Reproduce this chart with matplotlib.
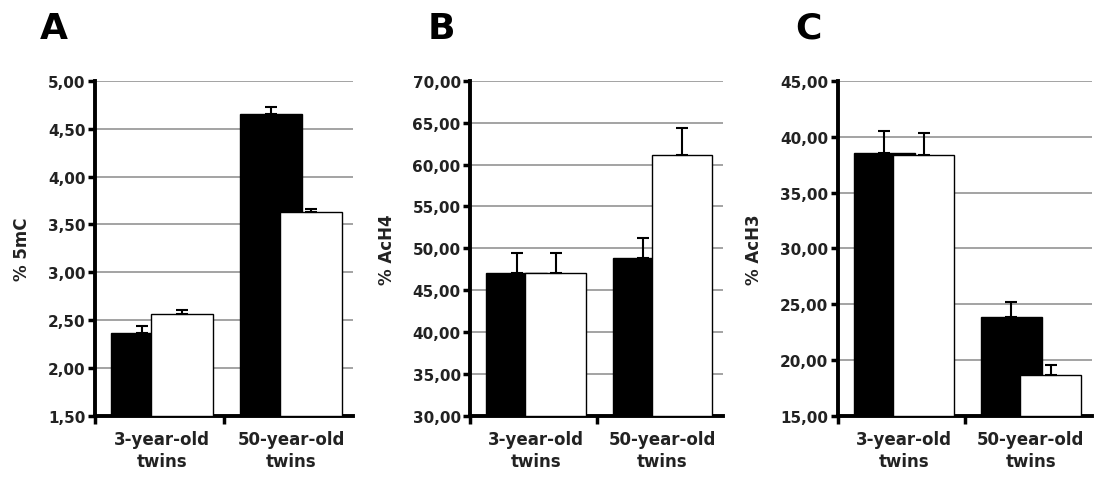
import numpy as np
import matplotlib
matplotlib.use("Agg")
import matplotlib.pyplot as plt
from matplotlib.ticker import FuncFormatter, MultipleLocator

# group labels and panel data (black = twin 1, white = twin 2)
groups = ["3-year-old\ntwins", "50-year-old\ntwins"]
panel_letters = ["A", "B", "C"]
ylabels = ["% 5mC", "% AcH4", "% AcH3"]

mc_black = [2.37, 4.65]
mc_black_err = [0.07, 0.08]
mc_white = [2.56, 3.63]
mc_white_err = [0.05, 0.03]

ach4_black = [47.1, 48.8]
ach4_black_err = [2.3, 2.5]
ach4_white = [47.1, 61.2]
ach4_white_err = [2.3, 3.2]

ach3_black = [38.5, 23.9]
ach3_black_err = [2.0, 1.3]
ach3_white = [38.4, 18.7]
ach3_white_err = [1.9, 0.9]

ylims = [(1.5, 5.0), (30, 70), (15, 45)]
ysteps = [0.5, 5, 5]

plt.rcParams['font.family'] = ['DejaVu Sans']

fig = plt.figure(figsize=(10.94, 4.81), dpi=100)
lefts = [0.087, 0.430, 0.766]
widths = [0.236, 0.231, 0.232]
letter_x = [0.049, 0.403, 0.739]

panels = [
    (mc_black, mc_black_err, mc_white, mc_white_err),
    (ach4_black, ach4_black_err, ach4_white, ach4_white_err),
    (ach3_black, ach3_black_err, ach3_white, ach3_white_err),
]

x = np.arange(len(groups)) + 0.52
w = 0.48
off = 0.155

for i, (bk, bk_err, wh, wh_err) in enumerate(panels):
    ax = fig.add_axes([lefts[i], 0.133, widths[i], 0.697])
    lo, hi = ylims[i]
    ax.bar(x - off, np.array(bk) - lo, w, bottom=lo, color="black",
           edgecolor="black", linewidth=1, zorder=2)
    ax.bar(x + off, np.array(wh) - lo, w, bottom=lo, color="white",
           edgecolor="black", linewidth=1, zorder=3)
    ax.errorbar(x - off, bk, yerr=[np.zeros(2), bk_err], fmt="none",
                ecolor="black", elinewidth=1.5, capsize=4, capthick=1.5, zorder=4)
    ax.errorbar(x + off, wh, yerr=[np.zeros(2), wh_err], fmt="none",
                ecolor="black", elinewidth=1.5, capsize=4, capthick=1.5, zorder=4)

    ax.set_xlim(0, 2)
    ax.set_ylim(lo, hi)
    ax.yaxis.set_major_locator(MultipleLocator(ysteps[i]))
    ax.yaxis.set_major_formatter(FuncFormatter(lambda v, p: f"{v:.2f}".replace(".", ",")))
    ax.grid(axis="y", color="#8a8a8a", linewidth=1.1, zorder=1)
    ax.set_axisbelow(True)

    ax.set_xticks(x)
    ax.set_xticklabels(groups, fontsize=12, fontweight="bold", color="#222222",
                       linespacing=1.3)
    ax.set_xticks([0, 1], minor=True)
    ax.tick_params(axis="x", which="major", length=0, pad=10)
    ax.tick_params(axis="x", which="minor", length=6, width=2.5, direction="out")
    ax.tick_params(axis="y", length=5, width=2.5, direction="out", pad=2,
                   labelsize=11)
    for lab in ax.get_yticklabels():
        lab.set_fontweight("bold")
        lab.set_color("#222222")

    for s in ["top", "right"]:
        ax.spines[s].set_visible(False)
    for s in ["left", "bottom"]:
        ax.spines[s].set_linewidth(2.8)

    ax.set_ylabel(ylabels[i], fontsize=12, fontweight="bold", color="#222222",
                  labelpad=12)
    fig.text(letter_x[i], 0.94, panel_letters[i], fontsize=26, fontweight="bold",
             ha="center", va="center")

fig.savefig("out.png", dpi=100)
